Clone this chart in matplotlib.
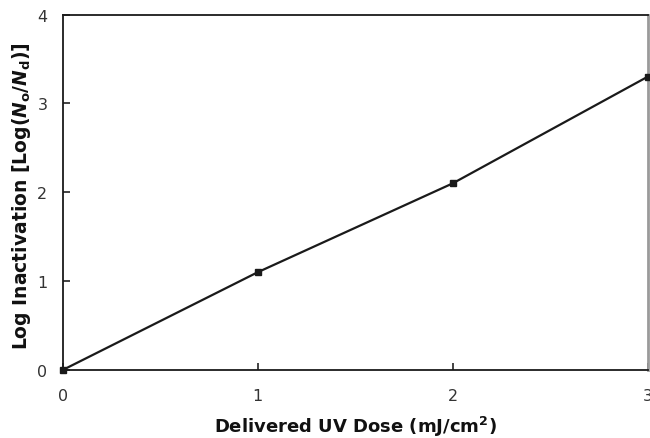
import matplotlib
matplotlib.use("Agg")
import matplotlib.pyplot as plt

dose = [0, 1, 2, 3]
log_inact = [0, 1.1, 2.1, 3.3]
xticks = [0, 1, 2, 3]
yticks = [0, 1, 2, 3, 4]

plt.rcParams['mathtext.fontset'] = 'custom'
plt.rcParams['mathtext.rm'] = 'DejaVu Sans:bold'
plt.rcParams['mathtext.it'] = 'DejaVu Sans:bold:italic'
plt.rcParams['mathtext.bf'] = 'DejaVu Sans:bold'

W, H = 650, 439
L, R, T, B = 62.7, 647.7, 15.5, 371
fig = plt.figure(figsize=(6.5, 4.39), dpi=100)
ax = fig.add_axes([L / W, (H - B) / H, (R - L) / W, (B - T) / H])
ax.plot(dose, log_inact, color='#1a1a1a', lw=1.6, marker='s', ms=5, clip_on=False, zorder=3)
ax.set_xlim(0, 3)
ax.set_ylim(0, 4)
ax.set_xticks(xticks)
ax.set_yticks(yticks)
ax.tick_params(direction='in', length=5, width=1.2, labelsize=11.5, colors='#222222')
ax.tick_params(axis='y', pad=11)
ax.tick_params(axis='x', pad=13)
for lbl in ax.get_xticklabels() + ax.get_yticklabels():
    lbl.set_family('DejaVu Sans')
    lbl.set_color('#333333')
for s in ['left', 'bottom', 'top']:
    ax.spines[s].set_color('#1a1a1a')
    ax.spines[s].set_linewidth(1.3)
ax.spines['right'].set_color('#9a9a9a')
ax.spines['right'].set_linewidth(2.0)
ax.set_xlabel(r'Delivered UV Dose (mJ/cm$^\mathregular{2}$)', family='DejaVu Sans',
              weight='bold', fontsize=13, color='#111111', va='top')
ax.xaxis.set_label_coords(0.5, (B - 415) / (B - T))
ax.set_ylabel(r'Log Inactivation [Log($\mathit{N}_\mathregular{o}$/$\mathit{N}_\mathregular{d}$)]',
              family='DejaVu Sans', weight='bold', fontsize=13.5, color='#111111', va='center')
ax.yaxis.set_label_coords((22 - L) / (R - L), (B - 196) / (B - T))
fig.savefig('out.png', dpi=100)
